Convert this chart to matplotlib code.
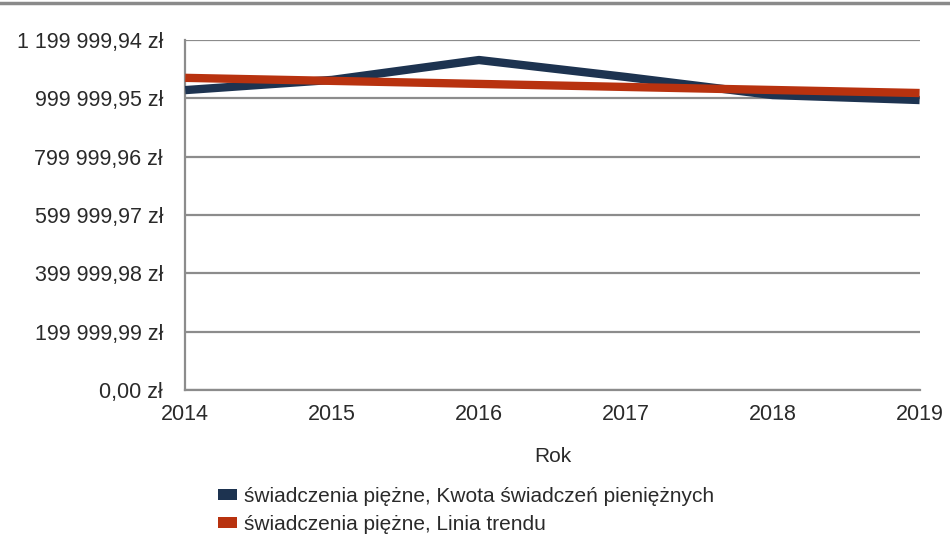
import matplotlib.pyplot as plt
from matplotlib.patches import Patch
from matplotlib.lines import Line2D

plt.rcParams["font.family"] = ["Liberation Sans", "DejaVu Sans"]

# Data
years = [2014, 2015, 2016, 2017, 2018, 2019]
amounts = [1028000, 1063000, 1131000, 1073000, 1011000, 994000]
trend_years = [2014, 2019]
trend_values = [1070000, 1018000]

y_ticks = [0.00, 199999.99, 399999.98, 599999.97, 799999.96, 999999.95, 1199999.94]

blue = "#1d3350"
red = "#b8320f"
grid_gray = "#8c8c8c"


def pln(v):
    s = f"{v:,.2f}".replace(",", " ").replace(".", ",")
    return s + " zł"


fig = plt.figure(figsize=(9.5, 5.39), dpi=100)
ax = fig.add_axes([0.195, 0.276, 0.773, 0.650])

ax.plot(years, amounts, color=blue, linewidth=6, solid_capstyle="butt", zorder=3)
ax.plot(trend_years, trend_values, color=red, linewidth=6, solid_capstyle="butt", zorder=4)

ax.set_xlim(years[0], years[-1])
ax.set_ylim(0, y_ticks[-1])
ax.set_yticks(y_ticks)
ax.set_yticklabels([pln(v) for v in y_ticks])
ax.set_xticks(years)
ax.tick_params(length=0, labelsize=15.5, colors="#2a2a2a")
ax.tick_params(axis="y", pad=16)
ax.tick_params(axis="x", pad=10)

ax.grid(axis="y", color=grid_gray, linewidth=1.6)
ax.set_axisbelow(True)
for side in ["top", "right"]:
    ax.spines[side].set_visible(False)
for side in ["left", "bottom"]:
    ax.spines[side].set_color(grid_gray)
    ax.spines[side].set_linewidth(1.6)

ax.set_xlabel("Rok", fontsize=15, color="#2a2a2a", labelpad=16)

# Legend below the chart
handles = [
    Patch(facecolor=blue, edgecolor="none"),
    Patch(facecolor=red, edgecolor="none"),
]
labels = [
    "świadczenia piężne, Kwota świadczeń pieniężnych",
    "świadczenia piężne, Linia trendu",
]
fig.legend(handles, labels, loc="upper left", bbox_to_anchor=(0.229, 0.097),
           frameon=False, fontsize=15, handlelength=0.95, handleheight=0.42,
           handletextpad=0.3, labelspacing=0.45, borderaxespad=0,
           borderpad=0, labelcolor="#2a2a2a")

# Grey rule at the top edge of the scan
fig.add_artist(Line2D([0, 1], [0.994, 0.994], transform=fig.transFigure,
                      color="#8a8a8a", linewidth=2.5))

fig.savefig("out.png", dpi=100)
plt.close(fig)
